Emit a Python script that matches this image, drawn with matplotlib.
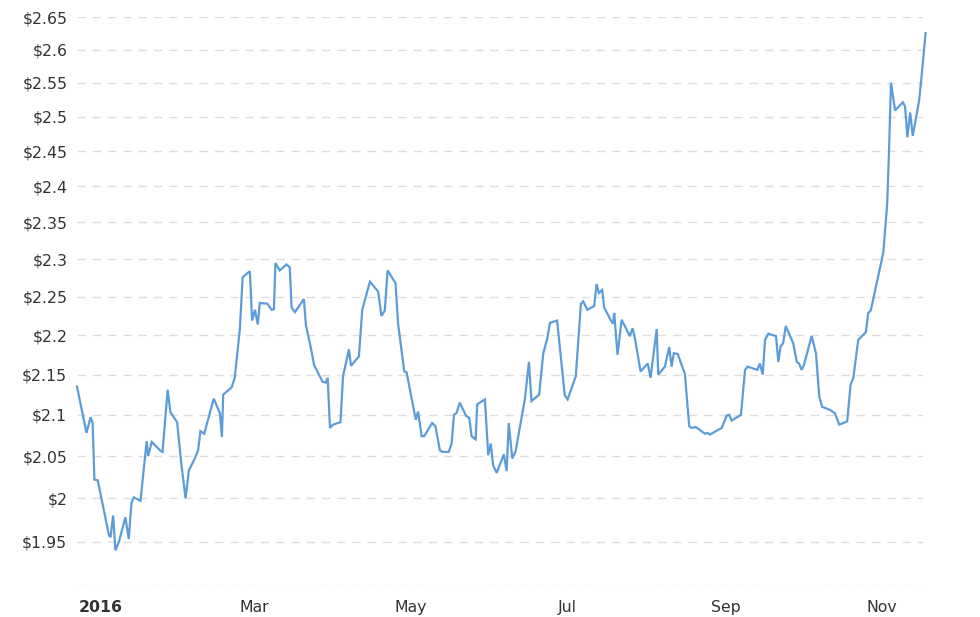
import matplotlib
matplotlib.use("Agg")
import matplotlib.pyplot as plt
import matplotlib.ticker as mticker
import numpy as np
import pandas as pd

# days counted from 2016-01-01, price in dollars
days = [
    -9.3, -5.6, -4.0, -3.2, -2.5, -1.2, 3.2, 3.8, 4.8, 5.7, 7.1, 9.6, 10.9, 12.0,
    12.9, 15.5, 17.9, 18.5, 19.9, 23.4, 24.1, 26.1, 27.2, 29.8, 31.5, 33.1, 34.4,
    36.7, 38.0, 38.9, 40.4, 44.1, 46.5, 47.3, 47.8, 51.1, 52.3, 54.3, 55.4, 58.2,
    59.1, 60.2, 61.3, 62.1, 65.0, 66.7, 67.6, 68.2, 69.9, 72.5, 73.8, 74.5, 75.8,
    79.3, 80.1, 81.9, 83.3, 86.6, 87.8, 88.6, 89.5, 90.7, 93.6, 94.6, 96.9, 97.7,
    100.8, 102.1, 105.1, 108.3, 109.6, 110.9, 112.0, 115.1, 116.1, 118.5, 119.4,
    123.0, 123.9, 125.3, 126.3, 129.4, 130.7, 132.4, 133.4, 135.9, 137.0, 137.9,
    138.9, 140.2, 142.6, 143.9, 144.8, 146.4, 147.0, 150.0, 151.3, 152.3, 153.2,
    154.6, 157.4, 158.5, 159.3, 160.7, 162.0, 165.6, 167.2, 168.2, 171.2, 172.8,
    174.3, 175.4, 178.2, 181.2, 182.3, 185.5, 187.5, 188.4, 190.0, 192.7, 193.6,
    194.5, 195.8, 196.6, 199.2, 200.1, 200.5, 201.8, 203.4, 206.6, 207.7, 208.6,
    210.8, 213.6, 214.7, 217.1, 217.7, 220.3, 222.0, 222.9, 223.8, 225.3, 228.1,
    229.8, 230.7, 232.4, 235.9, 236.8, 237.9, 242.5, 244.4, 245.4, 246.4, 250.0,
    251.6, 252.6, 256.4, 257.4, 258.5, 259.4, 260.7, 263.7, 264.6, 265.5, 266.5,
    267.5, 270.4, 271.8, 272.7, 273.7, 274.6, 277.6, 279.3, 280.6, 281.7, 284.8,
    286.7, 288.4, 291.5, 292.8, 293.9, 295.8, 298.8, 299.7, 300.7, 305.6, 307.1,
    307.8, 308.6, 310.2, 313.2, 314.1, 315.0, 316.1, 317.1, 319.6, 320.5, 322.1,
]
prices = [
    2.135, 2.078, 2.097, 2.090, 2.022, 2.021, 1.957, 1.955, 1.980, 1.940, 1.950,
    1.978, 1.953, 1.995, 2.001, 1.997, 2.068, 2.050, 2.067, 2.056, 2.055, 2.131,
    2.103, 2.091, 2.039, 2.000, 2.033, 2.047, 2.057, 2.080, 2.077, 2.120, 2.102,
    2.073, 2.125, 2.134, 2.146, 2.208, 2.276, 2.284, 2.219, 2.233, 2.214, 2.242,
    2.241, 2.233, 2.234, 2.295, 2.285, 2.293, 2.289, 2.236, 2.230, 2.247, 2.213,
    2.186, 2.162, 2.141, 2.140, 2.146, 2.084, 2.088, 2.091, 2.148, 2.182, 2.161,
    2.173, 2.233, 2.270, 2.257, 2.225, 2.232, 2.285, 2.268, 2.215, 2.154, 2.153,
    2.094, 2.104, 2.074, 2.074, 2.090, 2.086, 2.057, 2.055, 2.055, 2.065, 2.100,
    2.102, 2.115, 2.099, 2.096, 2.074, 2.070, 2.113, 2.119, 2.051, 2.065, 2.039,
    2.030, 2.052, 2.032, 2.090, 2.047, 2.056, 2.119, 2.166, 2.117, 2.125, 2.177,
    2.195, 2.216, 2.219, 2.124, 2.119, 2.148, 2.241, 2.244, 2.233, 2.238, 2.267,
    2.255, 2.259, 2.236, 2.219, 2.215, 2.229, 2.175, 2.220, 2.199, 2.209, 2.196,
    2.154, 2.164, 2.146, 2.208, 2.150, 2.160, 2.185, 2.160, 2.177, 2.176, 2.151,
    2.086, 2.084, 2.085, 2.077, 2.078, 2.076, 2.084, 2.099, 2.100, 2.093, 2.100,
    2.156, 2.160, 2.156, 2.164, 2.150, 2.194, 2.202, 2.199, 2.166, 2.186, 2.190,
    2.212, 2.190, 2.166, 2.164, 2.156, 2.162, 2.199, 2.177, 2.122, 2.110, 2.106,
    2.102, 2.088, 2.092, 2.137, 2.146, 2.194, 2.204, 2.229, 2.232, 2.309, 2.375,
    2.447, 2.550, 2.509, 2.521, 2.515, 2.470, 2.506, 2.472, 2.524, 2.558, 2.625,
]

y_ticks = [1.90, 1.95, 2.00, 2.05, 2.10, 2.15, 2.20, 2.25, 2.30, 2.35, 2.40,
           2.45, 2.50, 2.55, 2.60, 2.65]
x_tick_dates = ["2016-01-01", "2016-03-01", "2016-05-01", "2016-07-01",
                "2016-09-01", "2016-11-01"]
x_tick_labels = ["2016", "Mar", "May", "Jul", "Sep", "Nov"]

base = pd.Timestamp("2016-01-01")
dates = base + pd.to_timedelta(np.array(days), unit="D")

fig = plt.figure(figsize=(9.8, 6.17), dpi=100)
ax = fig.add_axes([77 / 980, 1 - 586 / 617, (923 - 77) / 980, (586 - 17) / 617])

ax.plot(dates, prices, color="#5c9cd9", lw=1.6, solid_joinstyle="miter",
        clip_on=False)

ax.set_yscale("log")
ax.set_ylim(1.90, 2.65)
ax.yaxis.set_major_locator(mticker.FixedLocator(y_ticks))
ax.yaxis.set_minor_locator(mticker.NullLocator())
ax.set_yticklabels(["" if v == 1.90 else f"${v:g}" for v in y_ticks])

ax.set_xlim(dates[0], dates[-1] - pd.Timedelta(days=1))
ax.set_xticks(pd.to_datetime(x_tick_dates))
ax.set_xticklabels(x_tick_labels)
ax.get_xticklabels()[0].set_fontweight("bold")

ax.grid(axis="y", color="#dddddd", lw=1.0, ls=(0, (6, 5)))
ax.set_axisbelow(True)
for s in ax.spines.values():
    s.set_visible(False)
ax.tick_params(length=0, labelsize=11.3, labelcolor="#333333")
ax.tick_params(axis="y", pad=7)
ax.tick_params(axis="x", pad=10)

fig.savefig("out.png", dpi=100, facecolor="white")
